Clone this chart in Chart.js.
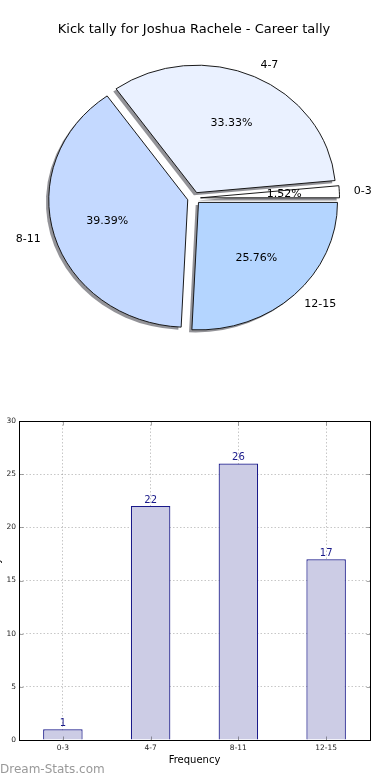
<!DOCTYPE html>
<html>
<head>
<meta charset="utf-8">
<script src="https://cdn.jsdelivr.net/npm/chart.js@4.4.1/dist/chart.umd.min.js"></script>
<style>
  html, body { margin: 0; padding: 0; background: #fff; overflow: hidden; width: 390px; height: 780px; }
  #pie { position: absolute; left: 0; top: 0; }
  #bar { position: absolute; left: -7px; top: 400px; }
  #wm { position: absolute; left: 0; top: 762px; font-family: 'DejaVu Sans', sans-serif; font-size: 12px; color: #999; }
</style>
</head>
<body>
<canvas id="pie" width="390" height="400"></canvas>
<canvas id="bar" width="397" height="380"></canvas>
<div id="wm">Dream-Stats.com</div>
<script>
// ---- data ----
const titleText = 'Kick tally for Joshua Rachele - Career tally';
const categories = ['0-3', '4-7', '8-11', '12-15'];
const tallies = [1, 22, 26, 17];
const pieColors = ['#ffffff', '#eaf1ff', '#c4d9ff', '#b4d5ff'];
const yTicksMax = 30;
const yTickStep = 5;
const xTitle = 'Frequency';
const yTitle = 'Stat Tally';

Chart.defaults.font.family = "'DejaVu Sans', sans-serif";
Chart.defaults.color = '#000';

// ---- pie (matplotlib style: counter-clockwise from 3 o'clock, exploded, shadow, elliptical) ----
const RX = 139, RY = 127.5, EXPLODE = 6.5, SHADOW = 2.8;
const pieLabels = categories.slice().reverse();
const pieValues = tallies.slice().reverse();
const pieBg = pieColors.slice().reverse();
const total = tallies.reduce((a, b) => a + b, 0);

const piePlugin = {
  id: 'piePlugin',
  beforeDatasetsDraw(chart) {
    const ctx = chart.ctx;
    const meta = chart.getDatasetMeta(0);
    const cx = meta.data[0].x, cy = meta.data[0].y;
    ctx.save();
    ctx.translate(cx, cy);
    ctx.scale(1, RY / RX);
    ctx.translate(-cx, -cy);
    meta.data.forEach(arc => {
      const mid = (arc.startAngle + arc.endAngle) / 2;
      const dx = EXPLODE * Math.cos(mid), dy = EXPLODE * Math.sin(mid);
      ctx.save();
      ctx.beginPath();
      const sx = cx + dx - SHADOW, sy = cy + dy + SHADOW;
      ctx.moveTo(sx, sy);
      ctx.arc(sx, sy, arc.outerRadius, arc.startAngle, arc.endAngle);
      ctx.closePath();
      ctx.fillStyle = 'rgba(40,40,50,0.5)';
      ctx.fill();
      ctx.restore();
      if (!arc._wrapped) {
        const orig = arc.draw;
        arc.draw = function (c) {
          const m = (this.startAngle + this.endAngle) / 2;
          c.save();
          c.translate(EXPLODE * Math.cos(m), EXPLODE * Math.sin(m));
          orig.call(this, c);
          c.restore();
        };
        arc._wrapped = true;
      }
    });
  },
  afterDatasetsDraw(chart) {
    const ctx = chart.ctx;
    ctx.restore();
    const meta = chart.getDatasetMeta(0);
    const cx = meta.data[0].x, cy = meta.data[0].y;
    ctx.save();
    ctx.font = "11px 'DejaVu Sans', sans-serif";
    ctx.fillStyle = '#000';
    ctx.textBaseline = 'middle';
    meta.data.forEach((arc, i) => {
      const mid = (arc.startAngle + arc.endAngle) / 2;
      const c = Math.cos(mid), s = Math.sin(mid);
      const lx = cx + RX * 1.15 * c, ly = cy + RY * 1.15 * s;
      ctx.textAlign = c > 0 ? 'left' : 'right';
      ctx.fillText(pieLabels[i], lx, ly);
      const px = cx + RX * 0.65 * c, py = cy + RY * 0.65 * s;
      ctx.textAlign = 'center';
      ctx.fillText((pieValues[i] / total * 100).toFixed(2) + '%', px, py);
    });
    ctx.restore();
  }
};

new Chart(document.getElementById('pie'), {
  type: 'pie',
  data: {
    labels: pieLabels,
    datasets: [{
      data: pieValues,
      backgroundColor: pieBg,
      borderColor: '#111',
      borderWidth: 1,
      radius: RX,
      clip: false
    }]
  },
  options: {
    responsive: false,
    animation: false,
    events: [],
    rotation: 90,
    layout: { padding: { top: 0, bottom: 41.6, left: 0, right: 2 } },
    plugins: {
      legend: { display: false },
      tooltip: { enabled: false },
      title: {
        display: true,
        text: titleText,
        color: '#000',
        font: { size: 13, weight: 'normal' },
        padding: { top: 22.2, bottom: 0 }
      }
    }
  },
  plugins: [piePlugin]
});

// ---- bar ----
const barPlugin = {
  id: 'barPlugin',
  afterDatasetsDraw(chart) {
    const ctx = chart.ctx;
    const meta = chart.getDatasetMeta(0);
    ctx.save();
    ctx.font = "10px 'DejaVu Sans', sans-serif";
    ctx.fillStyle = '#1a1a8a';
    ctx.textAlign = 'center';
    ctx.textBaseline = 'bottom';
    meta.data.forEach((bar, i) => {
      ctx.fillText(String(tallies[i]), bar.x, bar.y - 1);
    });
    ctx.restore();
  },
  afterDraw(chart) {
    const ctx = chart.ctx;
    const a = chart.chartArea;
    const L = Math.round(a.left) + 0.5, T = Math.round(a.top) + 0.5;
    const R = Math.round(a.right) + 0.5, B = Math.round(a.bottom) + 0.5;
    ctx.save();
    // inward tick marks
    ctx.strokeStyle = 'rgba(0,0,0,0.35)';
    ctx.lineWidth = 1;
    ctx.beginPath();
    chart.scales.y.ticks.forEach(t => {
      const y = Math.round(chart.scales.y.getPixelForValue(t.value)) + 0.5;
      ctx.moveTo(L, y); ctx.lineTo(L + 4, y);
      ctx.moveTo(R, y); ctx.lineTo(R - 4, y);
    });
    chart.scales.x.ticks.forEach((t, i) => {
      const x = Math.round(chart.scales.x.getPixelForTick(i)) + 0.5;
      ctx.moveTo(x, B); ctx.lineTo(x, B - 4);
      ctx.moveTo(x, T); ctx.lineTo(x, T + 4);
    });
    ctx.stroke();
    ctx.strokeStyle = '#000';
    ctx.strokeRect(L, T, R - L, B - T);
    ctx.restore();
  }
};

new Chart(document.getElementById('bar'), {
  type: 'bar',
  data: {
    labels: categories,
    datasets: [{
      data: tallies,
      backgroundColor: '#ccccE5',
      borderColor: '#1a1a8a',
      borderWidth: 1.2,
      barPercentage: 0.45,
      categoryPercentage: 1
    }]
  },
  options: {
    responsive: false,
    animation: false,
    events: [],
    layout: { padding: { top: 21, bottom: 0, left: 0, right: 20 } },
    plugins: { legend: { display: false }, tooltip: { enabled: false }, title: { display: false } },
    scales: {
      x: {
        grid: { display: true, offset: false, color: 'rgba(0,0,0,0.22)', drawTicks: false },
        border: { display: false, dash: [1.5, 2] },
        ticks: { font: { size: 7.5 }, color: '#222', padding: 4 },
        title: { display: true, text: xTitle, font: { size: 10 }, color: '#000', padding: { top: 0, bottom: 14 } },
        afterFit: s => { s.height = 40; }
      },
      y: {
        min: 0,
        max: yTicksMax,
        grid: { display: true, color: 'rgba(0,0,0,0.22)', drawTicks: false },
        border: { display: false, dash: [1.5, 2] },
        ticks: { stepSize: yTickStep, font: { size: 7.5 }, color: '#222', padding: 3 },
        title: { display: true, text: yTitle, font: { size: 10 }, color: '#000', padding: -2 },
        afterFit: s => { s.width = 26; }
      }
    }
  },
  plugins: [barPlugin]
});
</script>
</body>
</html>
